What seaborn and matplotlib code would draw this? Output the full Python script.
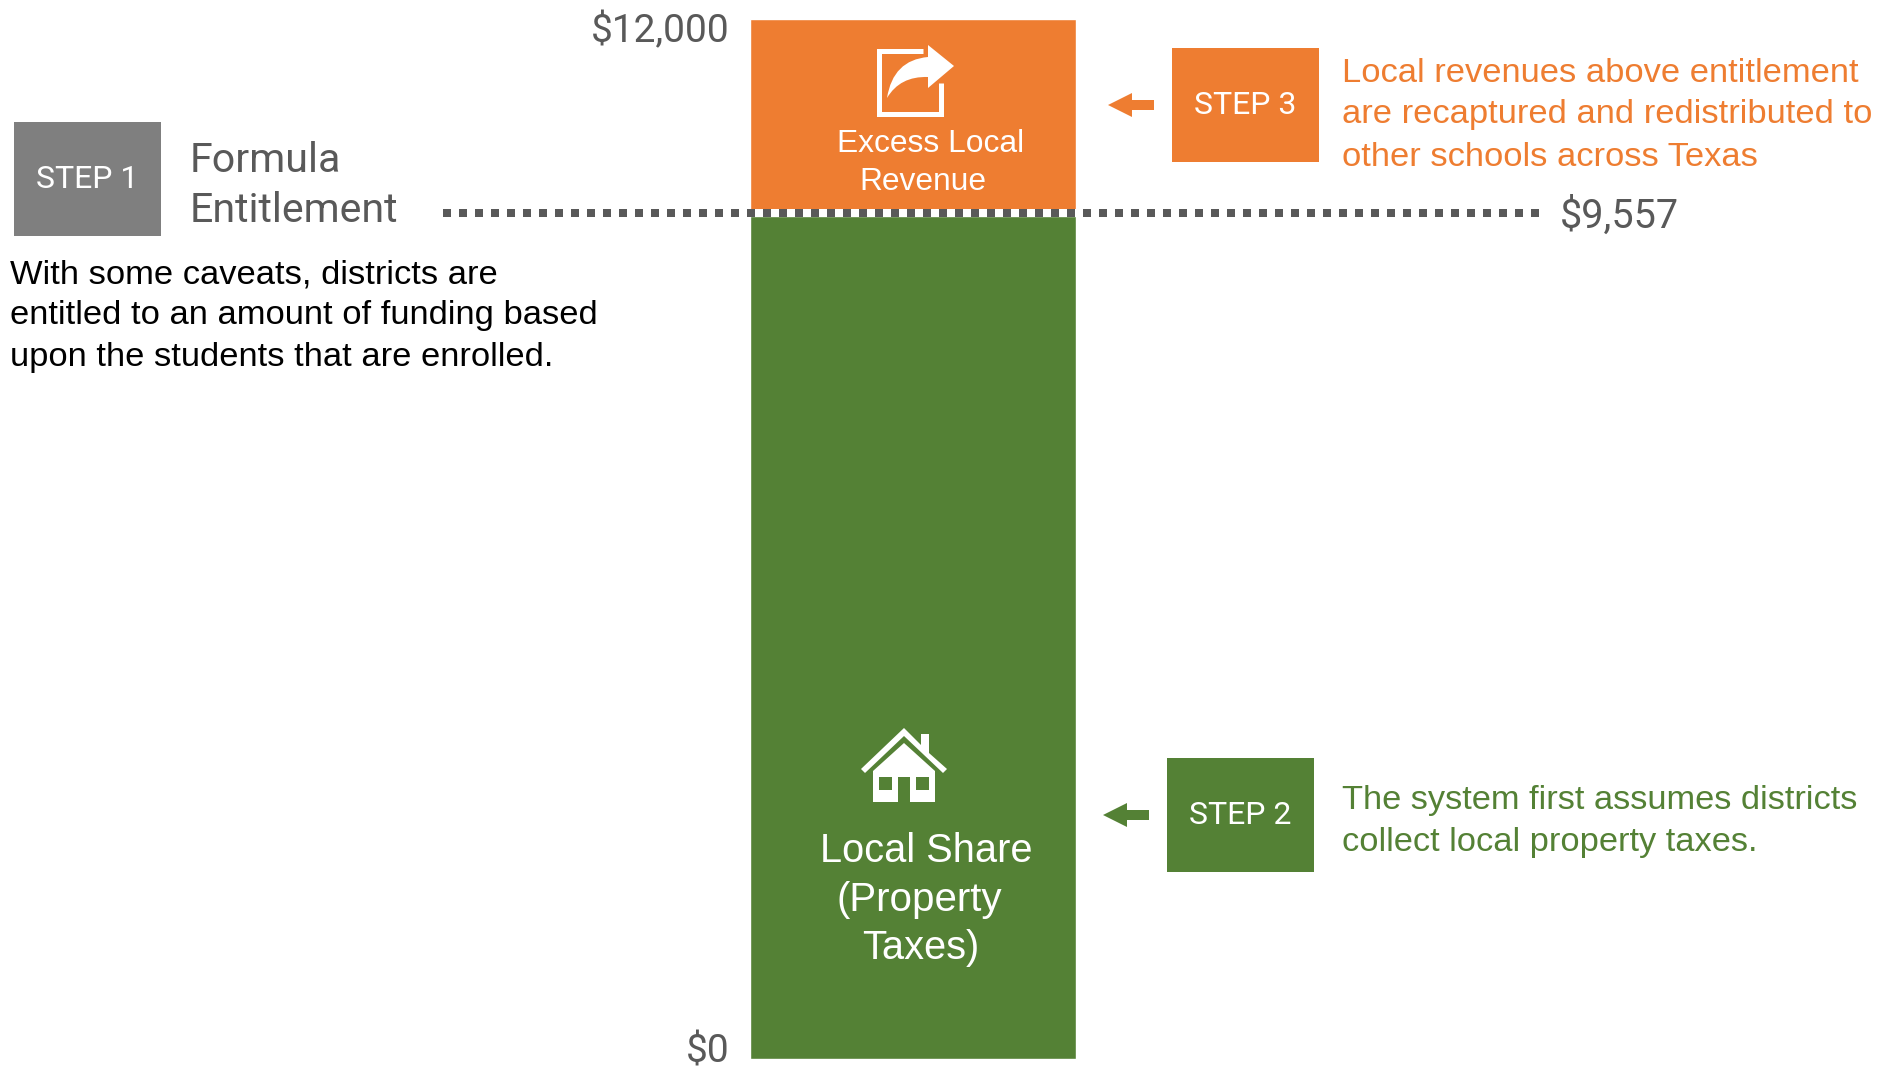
import numpy as np
import pandas as pd
import matplotlib
matplotlib.use('Agg')
import matplotlib.pyplot as plt
from matplotlib.patches import Rectangle, Polygon, PathPatch
from matplotlib.path import Path
from matplotlib.transforms import ScaledTranslation
import seaborn as sns

# values
entitlement = 9557
axis_top = 12000
segments = ['Local Share (Property Taxes)', 'Excess Local Revenue']
segment_values = [9557, 2443]
tick_values = [0, 12000]
tick_labels = ['$0', '$12,000']

ORANGE = '#ee7d31'
GREEN = '#548135'
GREY = '#7f7f7f'
DARK = '#595959'
NARROW = 'Roboto'

sns.set_theme(style='white')
plt.rcParams['font.family'] = ['Liberation Sans', 'DejaVu Sans']

W, H = 1882, 1067
fig = plt.figure(figsize=(W / 100, H / 100), dpi=100)

# overlay in pixel coordinates for the callouts
ov = fig.add_axes([0, 0, 1, 1], zorder=1)
ov.set_xlim(0, W)
ov.set_ylim(H, 0)
ov.axis('off')

# the bar axes: bar fills it, y scale has a break at the entitlement like the original
left, right, top, bottom = 750, 1076, 19, 1059
ax = fig.add_axes([left / W, 1 - bottom / H, (right - left) / W, (bottom - top) / H], zorder=2)
ax.patch.set_alpha(0)
breaks_val = [0, entitlement, axis_top]
breaks_pos = [0, 843, 1040]
ax.set_yscale('function', functions=(lambda v: np.interp(v, breaks_val, breaks_pos),
                                     lambda p: np.interp(p, breaks_pos, breaks_val)))
df = pd.DataFrame({'group': ['Total'], 'total': [sum(segment_values)], 'local': [segment_values[0]]})
sns.barplot(data=df, x='group', y='total', color=ORANGE, width=1, saturation=1, ax=ax)
sns.barplot(data=df, x='group', y='local', color=GREEN, width=1, saturation=1, ax=ax)
ax.set_xlim(-0.5, 0.5)
ax.set_ylim(0, axis_top)
ax.set_xlabel('')
ax.set_ylabel('')
ax.set_xticks([])
ax.set_yticks(tick_values)
ax.set_yticklabels(tick_labels, fontsize=28, color=DARK, family=NARROW)
ax.tick_params(axis='y', length=0, pad=15)
# labels sit inside the bar ends in the original
lab0, lab1 = ax.get_yticklabels()
lab0.set_transform(lab0.get_transform() + ScaledTranslation(0, 11 / 100, fig.dpi_scale_trans))
lab1.set_transform(lab1.get_transform() + ScaledTranslation(0, -8.5 / 100, fig.dpi_scale_trans))
sns.despine(ax=ax, left=True, bottom=True)

# entitlement line, white band under it across the bar
ov2 = fig.add_axes([0, 0, 1, 1], zorder=3)
ov2.set_xlim(0, W)
ov2.set_ylim(H, 0)
ov2.axis('off')
ov2.add_patch(Rectangle((left, 209), right - left, 7.5, color='white', lw=0))
ov2.plot([443, 1540], [212.7, 212.7], color=DARK, lw=5.76, linestyle=(0, (1.0, 1.0)), dash_capstyle='butt')
ov2.text(1560, 215.5, '$9,557', fontsize=28.5, color=DARK, family=NARROW, va='center', ha='left')


def step_box(x0, y0, x1, y1, label, color):
    ov.add_patch(Rectangle((x0, y0), x1 - x0, y1 - y0, color=color, lw=0))
    ov.text((x0 + x1) / 2, (y0 + y1) / 2 + 1, label, color='white', fontsize=23, family=NARROW,
            ha='center', va='center')


def left_arrow(x0, x1, y, color):
    ov2.add_patch(Polygon([(x0, y), (x0 + 24, y - 12), (x0 + 24, y - 5), (x1, y - 5), (x1, y + 5),
                           (x0 + 24, y + 5), (x0 + 24, y + 12)], color=color, lw=0))


step_box(14, 122, 161, 236, 'STEP 1', GREY)
step_box(1172, 48, 1319, 162, 'STEP 3', ORANGE)
step_box(1167, 758, 1314, 872, 'STEP 2', GREEN)
left_arrow(1108, 1154, 105, ORANGE)
left_arrow(1103, 1149, 815, GREEN)

ov.text(190, 160, 'Formula', fontsize=29.6, color=DARK, family=NARROW, va='center')
ov.text(190, 211, 'Entitlement', fontsize=29.6, color=DARK, family=NARROW, va='center')

for y, s in zip([274.5, 315.5, 357.5], ['With some caveats, districts are', 'entitled to an amount of funding based',
                                        'upon the students that are enrolled.']):
    ov.text(10, y, s, fontsize=24.8, color='black', va='center')
for y, s in zip([73, 114, 157], ['Local revenues above entitlement', 'are recaptured and redistributed to',
                                 'other schools across Texas']):
    ov.text(1342, y, s, fontsize=24.8, color=ORANGE, va='center')
for y, s in zip([800, 842], ['The system first assumes districts', 'collect local property taxes.']):
    ov.text(1342, y, s, fontsize=24.75, color=GREEN, va='center')

# labels in the bar
ov2.text(931, 144, 'Excess Local', fontsize=22.9, color='white', ha='center', va='center')
ov2.text(923, 182, 'Revenue', fontsize=22.9, color='white', ha='center', va='center')
ov2.text(926, 851, 'Local Share', fontsize=28.6, color='white', ha='center', va='center')
ov2.text(923 - 4, 900, '(Property', fontsize=29, color='white', ha='center', va='center')
ov2.text(921, 948, 'Taxes)', fontsize=28.6, color='white', ha='center', va='center')

# share icon
ov2.add_patch(Polygon([(923, 50.5), (879.5, 50.5), (879.5, 113.5), (941.5, 113.5), (941.5, 83)], closed=False,
                      fill=False, ec='white', lw=3.6, joinstyle='miter'))
arrow = Path([(887, 98), (893, 60), (928, 57), (928, 45), (954, 66), (928, 88), (928, 77), (900, 76), (887, 98),
              (887, 98)],
             [Path.MOVETO, Path.CURVE3, Path.CURVE3, Path.LINETO, Path.LINETO, Path.LINETO, Path.LINETO,
              Path.CURVE3, Path.CURVE3, Path.CLOSEPOLY])
ov2.add_patch(PathPatch(arrow, fc='white', ec='none'))

# house icon
ov2.add_patch(Polygon([(861, 769), (904, 728), (921, 745), (921, 734), (929, 734), (929, 753), (947, 769),
                       (943, 773), (904, 736), (865, 773)], color='white', lw=0))
ov2.add_patch(Polygon([(873, 771), (904, 743), (935, 771), (935, 802), (910, 802), (910, 777), (898, 777),
                       (898, 802), (873, 802)], color='white', lw=0))
ov2.add_patch(Rectangle((879, 777), 13, 12.5, color=GREEN, lw=0))
ov2.add_patch(Rectangle((916, 777), 13, 12.5, color=GREEN, lw=0))

fig.savefig('out.png', dpi=100)
